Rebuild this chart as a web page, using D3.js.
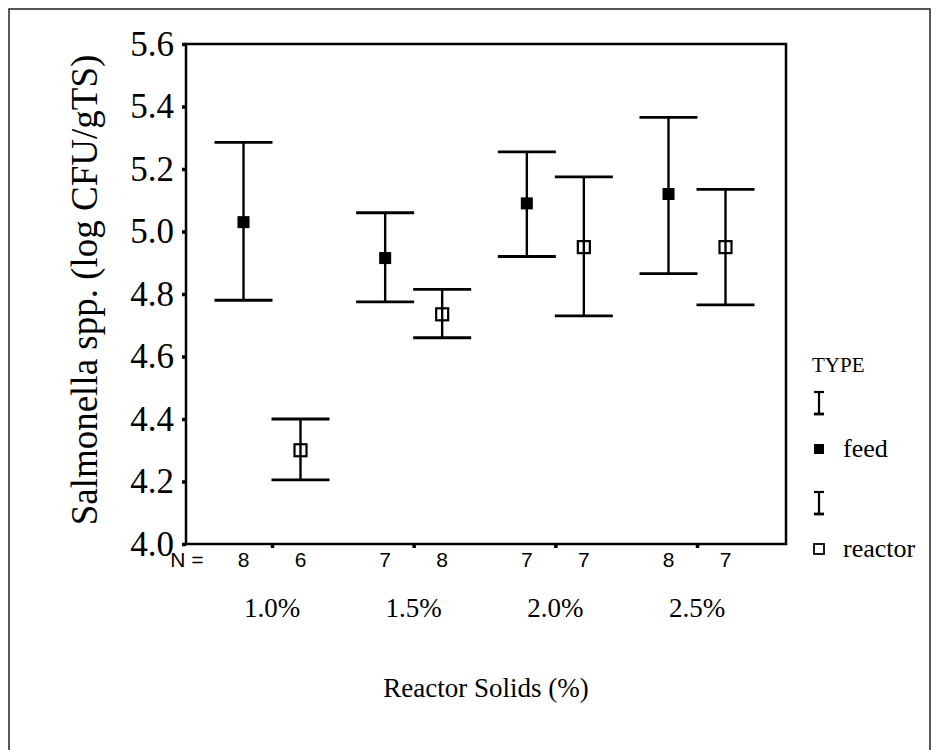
<!DOCTYPE html>
<html>
<head>
<meta charset="utf-8">
<script src="https://cdn.jsdelivr.net/npm/d3@7"></script>
<style>
html,body{margin:0;padding:0;background:#fff;}
svg{display:block;}
</style>
</head>
<body>
<script>
// ---- data ----
const categories = ["1.0%", "1.5%", "2.0%", "2.5%"];
const types = ["feed", "reactor"];
const feedMean = [5.03, 4.915, 5.09, 5.12];
const feedLow = [4.78, 4.775, 4.92, 4.865];
const feedHigh = [5.285, 5.06, 5.255, 5.365];
const reactorMean = [4.30, 4.735, 4.95, 4.95];
const reactorLow = [4.205, 4.66, 4.73, 4.765];
const reactorHigh = [4.40, 4.815, 5.175, 5.135];
const feedN = [8, 7, 7, 8];
const reactorN = [6, 8, 7, 7];
const yTicks = [4.0, 4.2, 4.4, 4.6, 4.8, 5.0, 5.2, 5.4, 5.6];

const rows = [];
categories.forEach((c, i) => {
  rows.push({cat: c, type: "feed", mean: feedMean[i], lo: feedLow[i], hi: feedHigh[i], n: feedN[i]});
  rows.push({cat: c, type: "reactor", mean: reactorMean[i], lo: reactorLow[i], hi: reactorHigh[i], n: reactorN[i]});
});

const W = 938, H = 750;
const plot = {left: 186, right: 786, top: 44, bottom: 544};
const serif = "'Liberation Serif', 'Times New Roman', serif";
const sans = "'Liberation Sans', Arial, sans-serif";

const svg = d3.select("body").append("svg").attr("width", W).attr("height", H);

// outer frame (left, top, right)
svg.append("path")
  .attr("d", `M9,${H} L9,9 L930,9 L930,${H}`)
  .attr("fill", "none").attr("stroke", "#222").attr("stroke-width", 1.5);

const y = d3.scaleLinear().domain([4.0, 5.6]).range([plot.bottom, plot.top]);
const x = d3.scalePoint().domain(categories).range([272, 697]);
const sub = d3.scalePoint().domain(types).range([-28.5, 28.5]);

// plot box
svg.append("rect")
  .attr("x", plot.left).attr("y", plot.top)
  .attr("width", plot.right - plot.left).attr("height", plot.bottom - plot.top)
  .attr("fill", "none").attr("stroke", "#000").attr("stroke-width", 2.5);

// y axis
const yAxis = svg.append("g").attr("transform", `translate(${plot.left},0)`)
  .call(d3.axisLeft(y).tickValues(yTicks).tickFormat(d3.format(".1f")).tickSize(4).tickPadding(8));
yAxis.select(".domain").remove();
yAxis.selectAll(".tick line").attr("stroke", "#000").attr("stroke-width", 3.5);
yAxis.selectAll(".tick text").attr("font-family", serif).attr("font-size", 35).attr("fill", "#000");

// x axis ticks
const xAxis = svg.append("g").attr("transform", `translate(0,${plot.bottom})`)
  .call(d3.axisBottom(x).tickSize(4).tickFormat(""));
xAxis.select(".domain").remove();
xAxis.selectAll(".tick line").attr("stroke", "#000").attr("stroke-width", 3.5);

// category labels
svg.append("g").selectAll("text").data(categories).join("text")
  .attr("x", d => x(d)).attr("y", 617)
  .attr("text-anchor", "middle")
  .attr("font-family", serif).attr("font-size", 27).attr("fill", "#000")
  .text(d => d);

// N row
svg.append("text").attr("x", 187).attr("y", 567).attr("text-anchor", "middle")
  .attr("font-family", sans).attr("font-size", 21).attr("fill", "#000").text("N =");
svg.append("g").selectAll("text").data(rows).join("text")
  .attr("x", d => x(d.cat) + sub(d.type)).attr("y", 567)
  .attr("text-anchor", "middle")
  .attr("font-family", sans).attr("font-size", 21).attr("fill", "#000")
  .text(d => d.n);

// error bars
const capHalf = 29;
const g = svg.append("g");
const bars = g.selectAll("g.bar").data(rows).join("g").attr("class", "bar");
bars.append("line")
  .attr("x1", d => x(d.cat) + sub(d.type)).attr("x2", d => x(d.cat) + sub(d.type))
  .attr("y1", d => y(d.lo)).attr("y2", d => y(d.hi))
  .attr("stroke", "#000").attr("stroke-width", 2.4);
bars.append("line")
  .attr("x1", d => x(d.cat) + sub(d.type) - capHalf).attr("x2", d => x(d.cat) + sub(d.type) + capHalf)
  .attr("y1", d => y(d.hi)).attr("y2", d => y(d.hi))
  .attr("stroke", "#000").attr("stroke-width", 2.8);
bars.append("line")
  .attr("x1", d => x(d.cat) + sub(d.type) - capHalf).attr("x2", d => x(d.cat) + sub(d.type) + capHalf)
  .attr("y1", d => y(d.lo)).attr("y2", d => y(d.lo))
  .attr("stroke", "#000").attr("stroke-width", 2.8);
bars.append("rect")
  .attr("x", d => x(d.cat) + sub(d.type) - 6).attr("y", d => y(d.mean) - 6)
  .attr("width", 12).attr("height", 12)
  .attr("fill", d => d.type === "feed" ? "#000" : "none")
  .attr("stroke", "#000").attr("stroke-width", d => d.type === "feed" ? 0 : 2.2);

// axis titles
svg.append("text").attr("x", 486).attr("y", 697).attr("text-anchor", "middle")
  .attr("font-family", serif).attr("font-size", 27).attr("fill", "#000")
  .text("Reactor Solids (%)");
svg.append("text")
  .attr("transform", `translate(97,${(plot.top + plot.bottom) / 2 - 4}) rotate(-90)`)
  .attr("text-anchor", "middle")
  .attr("font-family", serif).attr("font-size", 37).attr("fill", "#000")
  .text("Salmonella spp. (log CFU/gTS)");

// legend
const lg = svg.append("g").attr("transform", "translate(812,0)");
lg.append("text").attr("x", 0).attr("y", 372)
  .attr("font-family", serif).attr("font-size", 21).attr("fill", "#000").text("TYPE");
const legendItems = [{type: "feed", iy: 403, my: 449}, {type: "reactor", iy: 503, my: 549}];
legendItems.forEach(it => {
  const cx = 7;
  lg.append("line").attr("x1", cx).attr("x2", cx).attr("y1", it.iy - 11).attr("y2", it.iy + 11)
    .attr("stroke", "#000").attr("stroke-width", 2.2);
  lg.append("line").attr("x1", cx - 5).attr("x2", cx + 5).attr("y1", it.iy - 11).attr("y2", it.iy - 11)
    .attr("stroke", "#000").attr("stroke-width", 2.2);
  lg.append("line").attr("x1", cx - 5).attr("x2", cx + 5).attr("y1", it.iy + 11).attr("y2", it.iy + 11)
    .attr("stroke", "#000").attr("stroke-width", 2.8);
  lg.append("rect").attr("x", cx - 5).attr("y", it.my - 5).attr("width", 10).attr("height", 10)
    .attr("fill", it.type === "feed" ? "#000" : "#fff")
    .attr("stroke", "#000").attr("stroke-width", it.type === "feed" ? 0 : 1.8);
  lg.append("text").attr("x", 31).attr("y", it.my + 8)
    .attr("font-family", serif).attr("font-size", 26).attr("fill", "#000").text(it.type);
});
</script>
</body>
</html>
